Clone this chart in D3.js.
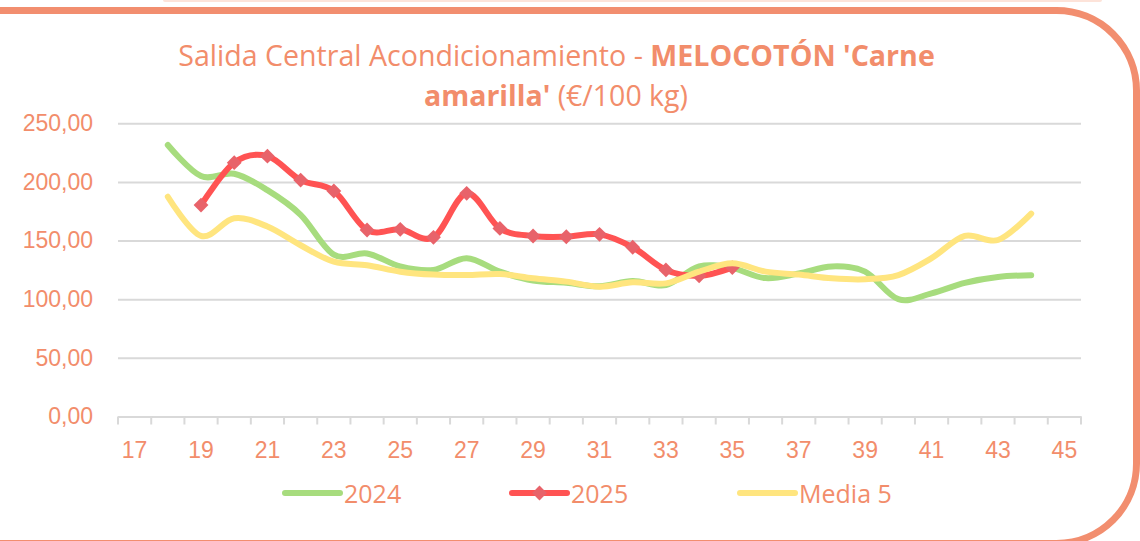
<!DOCTYPE html>
<html>
<head>
<meta charset="utf-8">
<script src="https://cdn.jsdelivr.net/npm/d3@7"></script>
<style>
  body { margin: 0; background: #fff; }
  svg { display: block; font-family: "Open Sans", "Noto Sans", sans-serif; }
</style>
</head>
<body>
<svg width="1140" height="541"></svg>
<script>
// weeks shown on the category axis
const weeks = [17, 18, 19, 20, 21, 22, 23, 24, 25, 26, 27, 28, 29, 30, 31,
               32, 33, 34, 35, 36, 37, 38, 39, 40, 41, 42, 43, 44, 45];

// 2024, weeks 18..44
const weeks2024 = [18, 19, 20, 21, 22, 23, 24, 25, 26, 27, 28, 29, 30, 31,
                   32, 33, 34, 35, 36, 37, 38, 39, 40, 41, 42, 43, 44];
const values2024 = [231.5, 205, 207, 193, 172, 138, 139, 128, 125, 135, 123.5, 116, 114, 111,
                    115.5, 112, 128, 126.5, 118, 122, 128, 123.5, 100, 105, 114, 119, 120.5];

// 2025, weeks 19..35
const weeks2025 = [19, 20, 21, 22, 23, 24, 25, 26, 27, 28, 29, 30, 31, 32, 33, 34, 35];
const values2025 = [180.3, 216.4, 222, 201.6, 192.3, 159, 159.6, 152.8, 190.3,
                    160.4, 153.9, 153.3, 155.3, 144.3, 125, 120, 127];

// Media 5, weeks 18..44
const weeksMedia = weeks2024;
const valuesMedia = [187.4, 154, 169, 162, 146, 132, 129, 123.5, 121, 120.6, 121.5, 117.8, 115, 110.7,
                     114.4, 113.5, 123.5, 130.6, 123.5, 121, 117.8, 117, 120.6, 135, 154, 150.5, 173];

const yTicks = [0, 50, 100, 150, 200, 250];

const textColor = "#f28d6b";
const series = [
  { name: "2024", weeks: weeks2024, values: values2024, color: "#a7dc7e", marker: false },
  { name: "2025", weeks: weeks2025, values: values2025, color: "#ff5353", marker: true },
  { name: "Media 5", weeks: weeksMedia, values: valuesMedia, color: "#ffe57f", marker: false }
];

const svg = d3.select("svg");
const plot = { left: 118, right: 1081, top: 123.3, bottom: 416.5 };

// frame (left side runs off the picture)
svg.append("rect")
  .attr("x", 163).attr("y", -3).attr("width", 939).attr("height", 5)
  .attr("rx", 2).attr("fill", "#fde3d9");
svg.append("rect")
  .attr("x", -150).attr("y", 10.5).attr("width", 1286.5).attr("height", 533)
  .attr("rx", 80).attr("ry", 80)
  .attr("fill", "none").attr("stroke", "#f28e6f").attr("stroke-width", 7);

const x = d3.scaleBand().domain(weeks).range([plot.left, plot.right]).padding(0);
const y = d3.scaleLinear().domain([0, 250]).range([plot.bottom, plot.top]);
const cx = w => x(w) + x.bandwidth() / 2;

const locale = d3.formatLocale({ decimal: ",", thousands: ".", grouping: [3], currency: ["", "€"] });
const fmt = locale.format(".2f");

// y axis with gridlines
const yAxis = svg.append("g")
  .attr("transform", `translate(${plot.left},0)`)
  .call(d3.axisLeft(y).tickValues(yTicks).tickFormat(fmt)
    .tickSize(-(plot.right - plot.left)).tickPadding(25));
yAxis.select(".domain").remove();
yAxis.selectAll(".tick line").attr("stroke", "#d9d9d9").attr("stroke-width", 2);
yAxis.selectAll(".tick text").attr("fill", textColor).attr("font-size", 23);

// x axis
const xAxis = svg.append("g")
  .attr("transform", `translate(0,${plot.bottom})`)
  .call(d3.axisBottom(x).tickSize(0).tickPadding(25)
    .tickFormat(w => (w % 2 === 1 ? w : "")));
xAxis.select(".domain").attr("stroke", "#d9d9d9").attr("stroke-width", 2);
xAxis.selectAll(".tick text").attr("fill", textColor).attr("font-size", 23);
xAxis.selectAll(".edge")
  .data(weeks.map(w => x(w)).concat([plot.right]))
  .enter().append("line")
  .attr("x1", d => d).attr("x2", d => d)
  .attr("y1", 0).attr("y2", 8)
  .attr("stroke", "#d9d9d9").attr("stroke-width", 2);

// lines
const line = d3.line()
  .x(d => cx(d.w))
  .y(d => y(d.v))
  .curve(d3.curveCatmullRom.alpha(0));

const diamond = d3.symbol().type(d3.symbolSquare).size(110);

series.forEach(s => {
  const pts = s.weeks.map((w, i) => ({ w: w, v: s.values[i] }));
  svg.append("path")
    .datum(pts)
    .attr("d", line)
    .attr("fill", "none")
    .attr("stroke", s.color)
    .attr("stroke-width", 6)
    .attr("stroke-linecap", "round")
    .attr("stroke-linejoin", "round");
  if (s.marker) {
    svg.selectAll(null)
      .data(pts)
      .enter().append("path")
      .attr("d", diamond)
      .attr("transform", d => `translate(${cx(d.w)},${y(d.v)}) rotate(45)`)
      .attr("fill", "#e8636a");
  }
});

// title
function fit(t, target) {
  const w = t.node().getComputedTextLength();
  const fs = parseFloat(t.attr("font-size"));
  t.attr("font-size", fs * target / w);
}
const t1 = svg.append("text")
  .attr("x", 556.5).attr("y", 66).attr("text-anchor", "middle")
  .attr("fill", textColor).attr("font-size", 27);
t1.append("tspan").text("Salida Central Acondicionamiento - ");
t1.append("tspan").attr("font-weight", "bold").text("MELOCOTÓN 'Carne");
fit(t1, 757);

const t2 = svg.append("text")
  .attr("x", 556).attr("y", 106).attr("text-anchor", "middle")
  .attr("fill", textColor).attr("font-size", 27);
t2.append("tspan").attr("font-weight", "bold").text("amarilla'");
t2.append("tspan").text(" (€/100 kg)");
fit(t2, 264);

// legend
const legendX = [285, 512, 740];
const legend = svg.append("g").attr("transform", "translate(0,493)");
series.forEach((s, i) => {
  const g = legend.append("g").attr("transform", `translate(${legendX[i]},0)`);
  g.append("line")
    .attr("x1", 0).attr("x2", 55).attr("y1", 0).attr("y2", 0)
    .attr("stroke", s.color).attr("stroke-width", 6).attr("stroke-linecap", "round");
  if (s.marker) {
    g.append("path").attr("d", diamond)
      .attr("transform", "translate(27.5,0) rotate(45)")
      .attr("fill", "#e8636a");
  }
  g.append("text")
    .attr("x", 59).attr("y", 9.5)
    .attr("fill", textColor).attr("font-size", 25)
    .text(s.name);
});
</script>
</body>
</html>
